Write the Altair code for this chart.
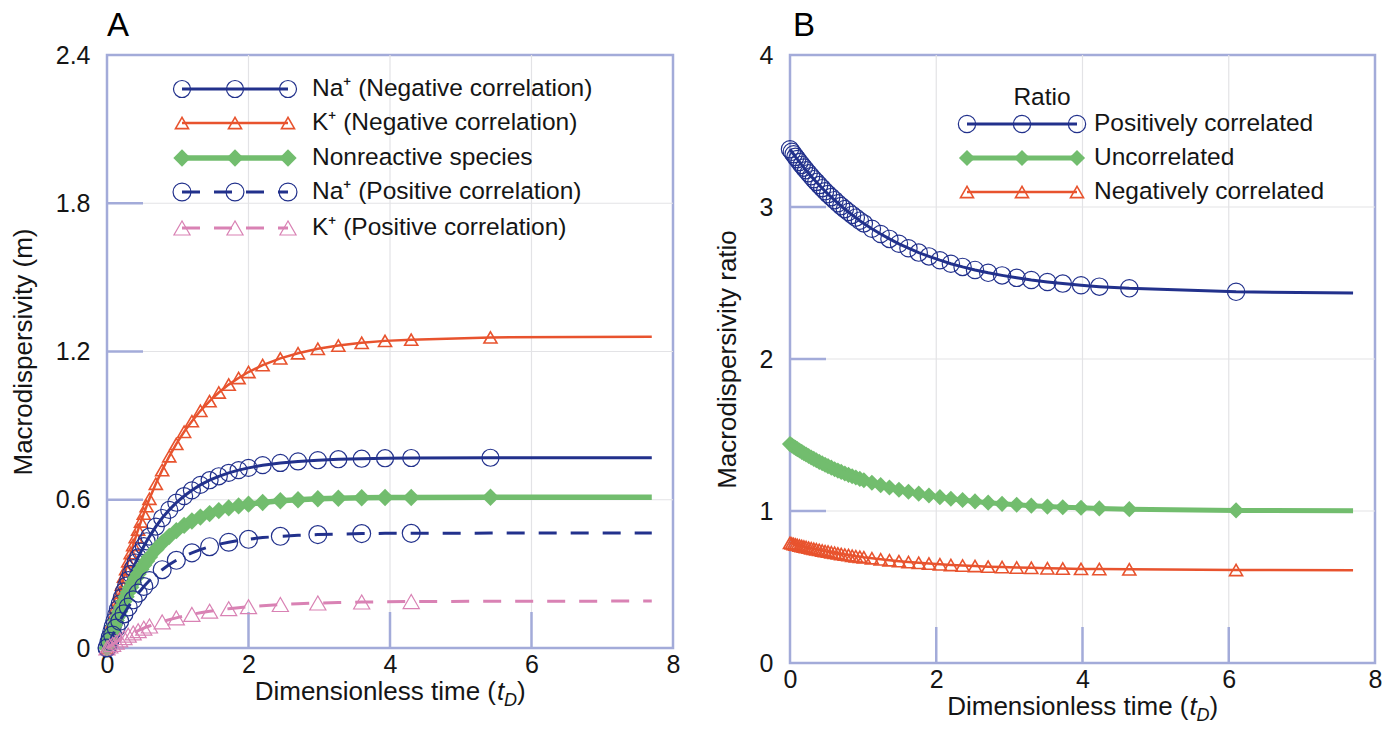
import altair as alt
import pandas as pd

# ---------------- data ----------------
# Panel A: macrodispersivity (m) against dimensionless time
t_a = [0, 0.02, 0.04, 0.06, 0.08, 0.105, 0.13, 0.155, 0.18, 0.21, 0.24, 0.27, 0.30, 0.335,
       0.37, 0.405, 0.44, 0.48, 0.52, 0.56, 0.60, 0.69, 0.78, 0.88, 0.98, 1.09, 1.20, 1.32,
       1.45, 1.58, 1.72, 1.86, 2.00, 2.20, 2.45, 2.70, 2.98, 3.27, 3.60, 3.93, 4.30, 5.42,
       7.70]
na_neg = [0, 0.022, 0.044, 0.065, 0.086, 0.110, 0.134, 0.157, 0.179, 0.205, 0.229, 0.252,
          0.275, 0.300, 0.323, 0.346, 0.367, 0.390, 0.412, 0.432, 0.451, 0.491, 0.526, 0.559,
          0.588, 0.615, 0.638, 0.660, 0.679, 0.695, 0.709, 0.720, 0.729, 0.740, 0.749, 0.755,
          0.760, 0.764, 0.766, 0.768, 0.769, 0.770, 0.770]
k_neg = [0, 0.027, 0.054, 0.080, 0.105, 0.136, 0.166, 0.195, 0.224, 0.257, 0.289, 0.320,
         0.351, 0.384, 0.417, 0.449, 0.479, 0.512, 0.544, 0.574, 0.604, 0.665, 0.720, 0.776,
         0.826, 0.875, 0.918, 0.960, 0.999, 1.034, 1.066, 1.093, 1.117, 1.145, 1.172, 1.193,
         1.211, 1.224, 1.235, 1.243, 1.248, 1.257, 1.260]
nonreactive = [0, 0.018, 0.036, 0.054, 0.071, 0.091, 0.111, 0.129, 0.148, 0.168, 0.188, 0.207,
               0.226, 0.246, 0.265, 0.283, 0.300, 0.319, 0.336, 0.352, 0.368, 0.399, 0.426,
               0.452, 0.475, 0.496, 0.514, 0.530, 0.544, 0.556, 0.567, 0.575, 0.582, 0.589,
               0.596, 0.600, 0.604, 0.606, 0.608, 0.609, 0.609, 0.610, 0.610]
na_pos = [0, 0.013, 0.027, 0.039, 0.052, 0.067, 0.081, 0.095, 0.108, 0.124, 0.138, 0.152,
          0.166, 0.181, 0.195, 0.209, 0.222, 0.235, 0.249, 0.261, 0.273, 0.296, 0.317, 0.338,
          0.355, 0.371, 0.385, 0.398, 0.410, 0.420, 0.428, 0.435, 0.440, 0.447, 0.452, 0.456,
          0.459, 0.461, 0.463, 0.464, 0.464, 0.465, 0.465]
k_pos = [0, 0.004, 0.008, 0.012, 0.015, 0.020, 0.024, 0.029, 0.033, 0.038, 0.042, 0.047,
         0.052, 0.056, 0.061, 0.066, 0.070, 0.075, 0.080, 0.085, 0.089, 0.098, 0.106, 0.115,
         0.122, 0.130, 0.136, 0.143, 0.149, 0.154, 0.159, 0.163, 0.167, 0.171, 0.176, 0.179,
         0.182, 0.184, 0.186, 0.187, 0.188, 0.189, 0.190]

# Panel B: macrodispersivity ratio against dimensionless time
t_b = [0, 0.025, 0.05, 0.075, 0.10, 0.13, 0.16, 0.19, 0.22, 0.255, 0.29, 0.325, 0.36, 0.40,
       0.44, 0.48, 0.52, 0.565, 0.61, 0.655, 0.70, 0.75, 0.80, 0.85, 0.90, 0.955, 1.01, 1.12,
       1.24, 1.36, 1.49, 1.62, 1.76, 1.90, 2.05, 2.20, 2.36, 2.53, 2.71, 2.90, 3.10, 3.30,
       3.52, 3.73, 3.98, 4.23, 4.64, 6.10, 7.70]
ratio_pos = [3.380, 3.363, 3.347, 3.330, 3.315, 3.296, 3.277, 3.259, 3.242, 3.222, 3.202,
             3.183, 3.165, 3.144, 3.124, 3.104, 3.085, 3.065, 3.045, 3.025, 3.006, 2.986,
             2.967, 2.948, 2.930, 2.910, 2.892, 2.857, 2.822, 2.790, 2.758, 2.729, 2.700,
             2.675, 2.650, 2.627, 2.606, 2.586, 2.567, 2.550, 2.534, 2.520, 2.507, 2.496,
             2.485, 2.476, 2.465, 2.442, 2.434]
ratio_unc = [1.440, 1.432, 1.423, 1.415, 1.407, 1.398, 1.389, 1.380, 1.372, 1.362, 1.352,
             1.343, 1.334, 1.323, 1.314, 1.304, 1.295, 1.285, 1.275, 1.266, 1.257, 1.247,
             1.238, 1.229, 1.220, 1.211, 1.202, 1.186, 1.170, 1.155, 1.140, 1.127, 1.114,
             1.102, 1.091, 1.081, 1.072, 1.063, 1.055, 1.047, 1.041, 1.035, 1.029, 1.025,
             1.021, 1.017, 1.012, 1.004, 1.001]
ratio_neg = [0.790, 0.787, 0.783, 0.780, 0.777, 0.773, 0.770, 0.766, 0.763, 0.759, 0.755,
             0.752, 0.748, 0.744, 0.740, 0.736, 0.733, 0.728, 0.725, 0.721, 0.717, 0.713,
             0.710, 0.706, 0.702, 0.699, 0.695, 0.689, 0.682, 0.676, 0.670, 0.664, 0.659,
             0.654, 0.649, 0.645, 0.641, 0.638, 0.634, 0.631, 0.628, 0.626, 0.623, 0.621,
             0.619, 0.618, 0.616, 0.612, 0.611]

x_ticks = [0, 2, 4, 6, 8]
y_ticks_a = [0, 0.6, 1.2, 1.8, 2.4]
y_ticks_b = [0, 1, 2, 3, 4]

labels_a = ["Na\u207a (Negative correlation)", "K\u207a (Negative correlation)",
            "Nonreactive species", "Na\u207a (Positive correlation)",
            "K\u207a (Positive correlation)"]
labels_b = ["Positively correlated", "Uncorrelated", "Negatively correlated"]

# ---------------- styling ----------------
FONT = "Liberation Sans"
TXT = "#151515"
FRAME = "#a3abd9"
GRID = "#e3e3e6"
NAVY = "#22318c"
RED = "#e8532e"
GREEN = "#72bd6e"
PINK = "#d982b4"
DASH = [18, 14]

WA, HA = 566, 593
WB, HB = 585, 608

LEGEND_ROWS = {"A": [34, 68, 103, 137, 173], "B": [69, 103, 137]}


def style(color, width, shape, size, filled, sw, dash=None):
    return dict(color=color, width=width, shape=shape, size=size,
                filled=filled, sw=sw, dash=dash)


def one():
    return pd.DataFrame({"k": [0]})


def build_series(t, v, every):
    """Full curve plus the subset of samples that carry a marker."""
    df = pd.DataFrame({"t": t, "v": v})
    n = len(df)
    marks = df[[(i < n - 1) and (i % every == 0) for i in range(n)]]
    return df, marks


def line_mark(st):
    kw = dict(color=st["color"], strokeWidth=st["width"])
    if st["dash"]:
        kw["strokeDash"] = st["dash"]
    return kw


def point_mark(st):
    return dict(shape=st["shape"], size=st["size"], filled=st["filled"],
                color=st["color"], opacity=1, strokeWidth=st["sw"])


def x_title_layers(width, height):
    # "Dimensionless time (t_D)" with an italic t and subscript D
    cx = width / 2
    base = height + 52
    common = dict(font=FONT, color=TXT, baseline="alphabetic")
    return [
        alt.Chart(one()).mark_text(text="Dimensionless time (", align="right",
                                   fontSize=26, **common)
        .encode(x=alt.value(cx + 106), y=alt.value(base)),
        alt.Chart(one()).mark_text(text="t", align="left", fontSize=26,
                                   fontStyle="italic", **common)
        .encode(x=alt.value(cx + 107), y=alt.value(base)),
        alt.Chart(one()).mark_text(text="D", align="left", fontSize=18,
                                   fontStyle="italic", **common)
        .encode(x=alt.value(cx + 114), y=alt.value(base + 6)),
        alt.Chart(one()).mark_text(text=")", align="left", fontSize=26, **common)
        .encode(x=alt.value(cx + 127), y=alt.value(base)),
    ]


def panel(width, height, y_dom, y_vals, y_fmt, y_title, series, letter, letter_dx,
          legend):
    xs = alt.Scale(domain=[0, 8], nice=False, zero=False)
    ys = alt.Scale(domain=y_dom, nice=False, zero=False)
    X = alt.X("t:Q", scale=xs,
              axis=alt.Axis(values=x_ticks, title=None, format="d", labelFlush=False))
    Y = alt.Y("v:Q", scale=ys,
              axis=alt.Axis(values=y_vals, title=y_title, format=y_fmt))

    inner_x = pd.DataFrame({"t": x_ticks[1:-1]})
    inner_y = pd.DataFrame({"v": y_vals[1:-1]})

    layers = [
        # light grid
        alt.Chart(inner_x).mark_rule(color=GRID, strokeWidth=1.2)
        .encode(x=X, y=alt.value(0), y2=alt.value(height)),
        alt.Chart(inner_y).mark_rule(color=GRID, strokeWidth=1.2)
        .encode(y=Y, x=alt.value(0), x2=alt.value(width)),
        # inward tick marks
        alt.Chart(inner_x).mark_rule(color=FRAME, strokeWidth=2.5)
        .encode(x=X, y=alt.value(height), y2=alt.value(height - 36)),
        alt.Chart(inner_y).mark_rule(color=FRAME, strokeWidth=2.5)
        .encode(y=Y, x=alt.value(0), x2=alt.value(36)),
    ]

    for df, marks, st in series:
        layers.append(alt.Chart(marks).mark_point(**point_mark(st)).encode(x=X, y=Y))
        layers.append(alt.Chart(df).mark_line(**line_mark(st)).encode(x=X, y=Y))

    # legend: sample line with three markers, then the label
    lx0, lx1, tx, rows, title = legend
    for ry, (label, st) in zip(LEGEND_ROWS[letter], rows):
        layers.append(alt.Chart(one()).mark_rule(**line_mark(st))
                      .encode(x=alt.value(lx0), x2=alt.value(lx1), y=alt.value(ry)))
        for px in (lx0, (lx0 + lx1) / 2, lx1):
            layers.append(alt.Chart(one()).mark_point(**point_mark(st))
                          .encode(x=alt.value(px), y=alt.value(ry)))
        layers.append(alt.Chart(one()).mark_text(text=label, align="left",
                                                 baseline="middle", fontSize=24.5,
                                                 font=FONT, color=TXT)
                      .encode(x=alt.value(tx), y=alt.value(ry)))
    if title:
        layers.append(alt.Chart(one()).mark_text(text=title[0], align="center",
                                                 baseline="middle", fontSize=24.5,
                                                 font=FONT, color=TXT)
                      .encode(x=alt.value(title[1]), y=alt.value(title[2])))

    # panel letter
    layers.append(alt.Chart(one()).mark_text(text=letter, align="left",
                                             baseline="alphabetic", fontSize=33,
                                             font=FONT, color="#000")
                  .encode(x=alt.value(letter_dx), y=alt.value(-19)))
    layers += x_title_layers(width, height)

    return alt.layer(*layers).properties(width=width, height=height)


st_na_neg = style(NAVY, 3, "circle", 290, False, 1.2)
st_k_neg = style(RED, 2.5, "triangle-up", 170, False, 1.6)
st_nonre = style(GREEN, 5.5, "diamond", 300, True, 1)
st_na_pos = style(NAVY, 3, "circle", 320, False, 1.2, DASH)
st_k_pos = style(PINK, 3, "triangle-up", 260, False, 1.2, DASH)

series_a = [
    (*build_series(t_a, k_neg, 1), st_k_neg),
    (*build_series(t_a, na_neg, 1), st_na_neg),
    (*build_series(t_a, nonreactive, 1), st_nonre),
    (*build_series(t_a, na_pos, 2), st_na_pos),
    (*build_series(t_a, k_pos, 2), st_k_pos),
]
legend_a = (75, 181, 205,
            list(zip(labels_a, [st_na_neg, st_k_neg, st_nonre, st_na_pos, st_k_pos])),
            None)

stb_pos = style(NAVY, 3, "circle", 300, False, 1.2)
stb_unc = style(GREEN, 5, "diamond", 260, True, 1)
stb_neg = style(RED, 2.5, "triangle-up", 170, False, 1.6)

series_b = [
    (*build_series(t_b, ratio_pos, 1), stb_pos),
    (*build_series(t_b, ratio_unc, 1), stb_unc),
    (*build_series(t_b, ratio_neg, 1), stb_neg),
]
legend_b = (177, 287, 304,
            list(zip(labels_b, [stb_pos, stb_unc, stb_neg])),
            ("Ratio", 252, 43))

panel_a = panel(WA, HA, [0, 2.4], y_ticks_a, ".1~f", "Macrodispersivity (m)",
                series_a, "A", 0, legend_a)
panel_b = panel(WB, HB, [0, 4], y_ticks_b, "d", "Macrodispersivity ratio",
                series_b, "B", 3, legend_b)

chart = (
    alt.hconcat(panel_a, panel_b, spacing=30)
    .properties(padding={"left": 8, "top": 8, "right": 4, "bottom": 4})
    .configure_view(stroke=FRAME, strokeWidth=2.5)
    .configure_axis(domain=False, ticks=False, grid=False, labelFont=FONT,
                    labelFontSize=25, labelColor=TXT, titleFont=FONT, titleFontSize=26,
                    titleFontWeight="normal", titleColor=TXT)
    .configure_axisX(labelPadding=4)
    .configure_axisY(labelPadding=17, titlePadding=19)
)

chart.save("out.html", embed_options={"renderer": "svg", "actions": False})
